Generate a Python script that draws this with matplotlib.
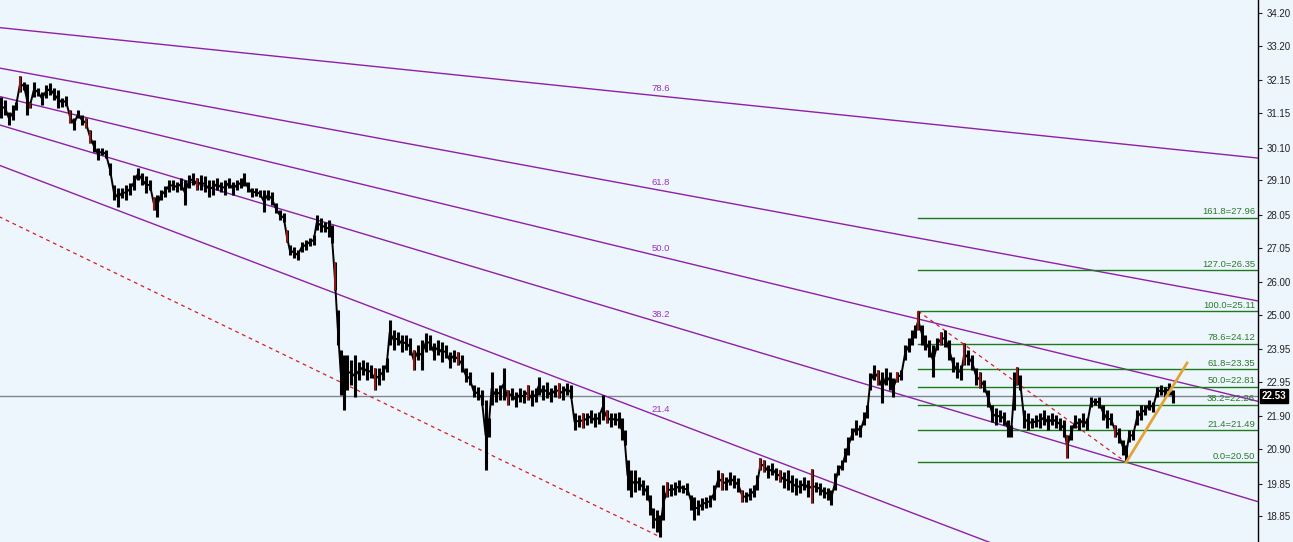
import matplotlib
matplotlib.use("Agg")
import matplotlib.pyplot as plt
import matplotlib.transforms as mtransforms
import numpy as np

plt.rcParams["font.family"] = ["Liberation Sans", "DejaVu Sans"]

# ---- price bars (bar position, high, low) ----
bar_x = [
    0, 4, 8, 12, 15, 19, 23, 26, 29, 33,
    37, 41, 45, 49, 53, 57, 61, 65, 69, 73,
    77, 81, 85, 89, 93, 97, 101, 105, 109, 113,
    117, 121, 125, 129, 133, 137, 141, 145, 149, 153,
    156, 160, 164, 168, 172, 176, 180, 184, 188, 192,
    196, 200, 204, 208, 212, 216, 220, 224, 228, 232,
    236, 240, 243, 247, 251, 255, 259, 263, 267, 271,
    275, 279, 283, 286, 289, 293, 297, 301, 305, 309,
    313, 316, 320, 324, 328, 331, 334, 337, 340, 343,
    346, 350, 354, 358, 362, 366, 370, 374, 378, 382,
    386, 389, 393, 397, 401, 405, 409, 413, 417, 421,
    425, 429, 433, 437, 441, 445, 449, 453, 457, 461,
    465, 469, 473, 477, 481, 485, 488, 491, 495, 499,
    503, 507, 511, 515, 519, 523, 527, 531, 535, 538,
    542, 546, 550, 554, 558, 562, 566, 570, 574, 578,
    582, 586, 590, 594, 598, 602, 606, 610, 614, 618,
    621, 624, 627, 631, 635, 639, 643, 647, 650, 653,
    657, 660, 663, 667, 671, 675, 679, 683, 687, 691,
    694, 698, 702, 706, 710, 714, 718, 722, 726, 730,
    734, 738, 742, 746, 750, 754, 757, 760, 764, 768,
    772, 776, 780, 784, 788, 792, 796, 800, 804, 808,
    812, 816, 820, 824, 828, 831, 835, 838, 842, 845,
    848, 852, 856, 860, 864, 867, 870, 874, 878, 882,
    886, 890, 893, 897, 901, 905, 909, 912, 915, 918,
    922, 925, 929, 933, 937, 941, 945, 949, 953, 957,
    961, 964, 968, 972, 976, 980, 984, 988, 992, 996,
    1000, 1004, 1008, 1011, 1014, 1017, 1020, 1024, 1028, 1032,
    1036, 1040, 1044, 1048, 1052, 1056, 1060, 1064, 1067, 1071,
    1075, 1079, 1083, 1087, 1091, 1095, 1099, 1103, 1107, 1111,
    1115, 1119, 1123, 1126, 1129, 1133, 1137, 1141, 1145, 1149,
    1153, 1157, 1161, 1165, 1169, 1173,
]
bar_high = [
    31.64, 31.55, 31.18, 31.40, 31.49, 32.28, 32.10, 32.04, 31.46, 32.10,
    31.92, 31.79, 32.01, 32.07, 31.92, 31.86, 31.61, 31.67, 31.24, 31.00,
    31.24, 31.09, 31.00, 30.64, 30.33, 30.09, 30.09, 30.02, 29.63, 28.96,
    28.87, 28.87, 28.96, 29.02, 29.26, 29.48, 29.32, 29.23, 29.11, 28.59,
    28.65, 28.80, 28.93, 29.11, 29.11, 29.05, 29.17, 29.11, 29.26, 29.32,
    29.17, 29.26, 29.23, 29.11, 29.11, 29.17, 29.05, 29.11, 29.17, 29.05,
    29.11, 29.17, 29.32, 29.05, 28.87, 28.87, 28.80, 28.80, 28.80, 28.74,
    28.41, 28.19, 28.10, 27.58, 27.13, 27.07, 26.98, 27.22, 27.28, 27.34,
    27.43, 28.04, 27.95, 27.83, 27.89, 27.74, 26.61, 25.15, 23.93, 23.77,
    23.77, 23.62, 23.77, 23.56, 23.62, 23.56, 23.47, 23.38, 23.38, 23.47,
    23.68, 24.84, 24.54, 24.47, 24.38, 24.38, 24.29, 23.93, 24.08, 24.23,
    24.44, 24.38, 24.14, 24.23, 24.17, 24.08, 23.86, 23.93, 23.86, 23.77,
    23.38, 23.25, 22.86, 22.80, 22.71, 22.40, 21.85, 23.25, 22.77, 22.86,
    23.38, 22.71, 22.77, 22.64, 22.77, 22.71, 22.86, 22.71, 22.77, 23.10,
    22.86, 22.95, 22.77, 22.86, 22.92, 22.83, 22.92, 22.86, 22.00, 21.94,
    22.00, 22.00, 22.10, 22.00, 22.03, 22.55, 22.10, 22.00, 22.00, 22.03,
    21.85, 21.48, 20.57, 20.26, 20.26, 20.05, 19.96, 19.81, 19.50, 19.11,
    19.05, 18.89, 19.81, 19.90, 19.84, 19.90, 19.96, 19.81, 19.87, 19.50,
    19.44, 19.35, 19.41, 19.44, 19.50, 19.81, 20.26, 20.17, 20.05, 20.20,
    20.11, 20.02, 19.65, 19.59, 19.72, 19.81, 20.11, 20.63, 20.57, 20.42,
    20.48, 20.33, 20.26, 20.20, 20.26, 20.11, 20.02, 19.96, 20.05, 19.96,
    20.29, 19.90, 19.87, 19.75, 19.72, 19.65, 20.17, 20.42, 20.57, 20.94,
    21.27, 21.55, 21.79, 21.64, 22.03, 22.25, 23.22, 23.47, 23.32, 23.25,
    23.38, 23.25, 23.07, 23.25, 23.32, 24.08, 24.29, 24.54, 24.69, 25.11,
    24.69, 24.38, 24.23, 24.08, 24.29, 24.47, 24.54, 24.23, 23.71, 23.56,
    23.47, 24.14, 23.93, 23.77, 23.38, 23.25, 23.01, 22.71, 22.25, 22.16,
    22.10, 22.03, 21.79, 21.64, 23.25, 23.41, 23.16, 22.10, 22.00, 21.85,
    21.94, 22.00, 22.10, 21.94, 22.00, 21.94, 21.85, 21.79, 21.33, 21.64,
    21.94, 21.85, 22.00, 21.85, 22.49, 22.46, 22.49, 22.25, 22.10, 22.00,
    21.64, 21.55, 21.18, 21.03, 21.48, 21.48, 22.10, 22.25, 22.25, 22.40,
    22.34, 22.80, 22.86, 22.80, 22.92, 22.71,
]
bar_low = [
    31.00, 31.09, 30.79, 30.94, 31.24, 31.79, 31.86, 31.09, 31.31, 31.64,
    31.67, 31.40, 31.61, 31.70, 31.55, 31.31, 31.34, 31.37, 30.85, 30.64,
    31.00, 30.79, 30.70, 30.24, 29.96, 29.72, 29.87, 29.78, 29.26, 28.50,
    28.29, 28.56, 28.50, 28.65, 28.80, 29.11, 28.96, 28.71, 28.80, 28.19,
    27.98, 28.50, 28.59, 28.74, 28.80, 28.74, 28.80, 28.35, 28.87, 28.96,
    28.80, 28.80, 28.74, 28.59, 28.65, 28.80, 28.74, 28.65, 28.87, 28.65,
    28.80, 28.87, 28.93, 28.74, 28.59, 28.62, 28.59, 28.13, 28.50, 28.35,
    28.10, 27.89, 27.83, 27.22, 26.82, 26.73, 26.67, 26.91, 26.98, 27.10,
    27.13, 27.58, 27.52, 27.52, 27.37, 27.19, 25.76, 24.08, 22.55, 22.10,
    22.71, 22.86, 22.49, 23.01, 23.16, 23.01, 23.07, 22.71, 22.86, 23.01,
    23.25, 24.08, 23.93, 24.08, 23.86, 23.93, 23.77, 23.32, 23.62, 23.32,
    23.86, 23.93, 23.62, 23.77, 23.56, 23.68, 23.38, 23.56, 23.47, 23.25,
    22.95, 22.86, 22.49, 22.40, 22.25, 20.26, 21.27, 22.25, 22.34, 22.40,
    22.40, 22.25, 22.40, 22.19, 22.34, 22.31, 22.40, 22.22, 22.34, 22.55,
    22.40, 22.46, 22.34, 22.49, 22.46, 22.40, 22.55, 22.46, 21.48, 21.58,
    21.55, 21.64, 21.70, 21.58, 21.67, 21.79, 21.70, 21.58, 21.64, 21.55,
    21.18, 21.03, 19.65, 19.44, 19.59, 19.65, 19.50, 19.35, 18.89, 18.50,
    18.37, 18.22, 18.74, 19.44, 19.47, 19.50, 19.59, 19.56, 19.50, 19.05,
    18.74, 18.89, 19.05, 19.11, 19.14, 19.35, 19.75, 19.65, 19.65, 19.81,
    19.72, 19.59, 19.29, 19.29, 19.35, 19.44, 19.65, 20.26, 20.20, 20.02,
    20.11, 19.96, 19.90, 19.72, 19.65, 19.59, 19.50, 19.56, 19.65, 19.44,
    19.26, 19.59, 19.50, 19.41, 19.35, 19.20, 19.65, 20.11, 20.26, 20.51,
    20.72, 21.18, 21.33, 21.27, 21.64, 21.85, 22.71, 23.01, 22.86, 22.31,
    22.86, 22.71, 22.49, 22.95, 23.01, 23.62, 23.86, 24.08, 24.29, 24.54,
    24.08, 23.93, 23.71, 23.10, 23.93, 24.08, 24.02, 23.62, 23.25, 23.07,
    23.01, 23.47, 23.47, 23.32, 22.86, 22.77, 22.64, 22.19, 21.73, 21.64,
    21.73, 21.64, 21.27, 21.27, 22.10, 22.86, 22.71, 21.55, 21.48, 21.55,
    21.58, 21.55, 21.64, 21.48, 21.64, 21.55, 21.48, 21.27, 20.63, 21.18,
    21.55, 21.48, 21.58, 21.48, 22.19, 22.25, 22.16, 21.79, 21.55, 21.64,
    21.27, 21.09, 20.72, 20.50, 21.12, 21.18, 21.64, 21.79, 21.94, 22.10,
    22.03, 22.49, 22.55, 22.49, 22.55, 22.31,
]
# bearish bars drawn in red
red_bars = [19, 29, 69, 85, 89, 153, 196, 286, 334, 374, 413, 457, 507, 527,
            558, 582, 606, 667, 722, 742, 760, 764, 780, 812, 878, 897, 918,
            941, 964, 980, 1017, 1067, 1115]

bid_price = 22.53

# fibonacci fan (anchor bar, price) and levels
fan_start = (-499, 35.33)
fan_end = (660, 18.22)
fan_levels = [78.6, 61.8, 50.0, 38.2, 21.4]

# fibonacci retracement
fibo_high = (918, 25.11)
fibo_low = (1126, 20.50)
fibo_levels = [0.0, 21.4, 38.2, 50.0, 61.8, 78.6, 100.0, 127.0, 161.8]

# trendline from the swing low
trend_start = (1126, 20.50)
trend_end = (1187, 23.53)

y_ticks = [34.20, 33.20, 32.15, 31.15, 30.10, 29.10, 28.05, 27.05, 26.00,
           25.00, 23.95, 22.95, 21.90, 20.90, 19.85, 18.85]

x_max = 1258
bg = "#eef6fd"
purple = "#8e1fa8"
green = "#1c7a1c"

fig = plt.figure(figsize=(12.93, 5.42), dpi=100, facecolor=bg)
ax = fig.add_axes([0, 0, x_max / 1293, 1])
ax.set_facecolor(bg)

# bid line
ax.axhline(bid_price, color="#7d8593", linewidth=1.0, zorder=1)

# fan lines
x1, p1 = fan_start
x2, p2 = fan_end
for lvl in fan_levels:
    p_at = p1 + (p2 - p1) * (1 - lvl / 100)
    slope = (p_at - p1) / (x2 - x1)
    ax.plot([x1, x_max], [p1, p1 + slope * (x_max - x1)], color=purple, linewidth=1.0, zorder=2)
    ax.annotate(f"{lvl:.1f}", (x2, p_at), xytext=(0, 2.5), textcoords="offset points",
                ha="center", va="bottom", fontsize=6.8, color="#9b2fc0", zorder=5)
ax.plot([x1, x2], [p1, p2], color="#d42020", linewidth=0.9, linestyle=(0, (3, 3)), zorder=2)

# fibo retracement
fx, fh = fibo_high
lx, fl = fibo_low
for lvl in fibo_levels:
    price = fl + (fh - fl) * lvl / 100
    ax.plot([fx, x_max], [price, price], color=green, linewidth=1.0, zorder=2)
    ax.annotate(f"{lvl:.1f}={price + 1e-6:.2f}", (x_max - 3, price), xytext=(0, 1),
                textcoords="offset points", ha="right", va="bottom", fontsize=6.8,
                color="#2a7a2a", zorder=5)
ax.plot([fx, lx], [fh, fl], color="#d42020", linewidth=0.9, linestyle=(0, (3, 3)), zorder=2)

# price bars
bx = np.array(bar_x)
hi = np.array(bar_high)
lo = np.array(bar_low)
mid = (hi + lo) / 2
ax.plot(bx, mid, color="black", linewidth=1.4, zorder=3)
ax.vlines(bx, lo, hi, color="black", linewidth=2.2, zorder=3)
red_mask = np.isin(bx, red_bars)
ax.vlines(bx[red_mask], lo[red_mask], hi[red_mask], color="#a81c1c", linewidth=1.2, zorder=4)

# trendline
ax.plot([trend_start[0], trend_end[0]], [trend_start[1], trend_end[1]],
        color="#e2a437", linewidth=2.0, zorder=4)

ax.set_xlim(-1, x_max)
ax.set_ylim(18.07, 34.60)
ax.set_xticks([])
ax.yaxis.tick_right()
ax.set_yticks(y_ticks)
ax.set_yticklabels([f"{v:.2f}" for v in y_ticks])
ax.tick_params(axis="y", direction="out", length=3, width=0.8, pad=3,
               labelsize=7, colors="#222222")
for side in ["top", "left", "bottom"]:
    ax.spines[side].set_visible(False)
ax.spines["right"].set_color("black")
ax.spines["right"].set_linewidth(1.0)

# current price label
trans = mtransforms.blended_transform_factory(ax.transAxes, ax.transData)
ax.text(1.003, bid_price, f"{bid_price:.2f}", transform=trans, ha="left", va="center",
        fontsize=7, color="white", fontweight="bold",
        bbox=dict(boxstyle="square,pad=0.2", fc="black", ec="black"), clip_on=False, zorder=6)

fig.savefig("out.png", dpi=100, facecolor=bg)
